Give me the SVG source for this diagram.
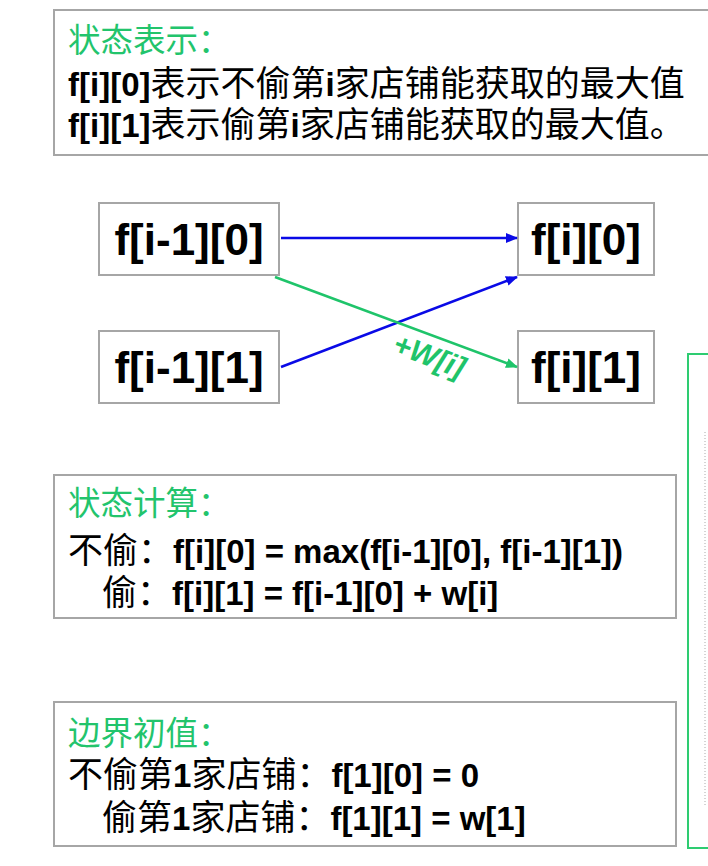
<svg xmlns="http://www.w3.org/2000/svg" width="708" height="866" viewBox="0 0 708 866">
<defs>
<style>
.box{fill:#fff;stroke:#a6a6a6;stroke-width:2}
.cj{font-family:"Noto Sans CJK SC","Noto Sans",sans-serif;font-size:35px;fill:#000}
.ti{font-family:"Noto Sans CJK SC","Noto Sans",sans-serif;font-size:32.5px;fill:#22c46c}
.lb{font-family:"Liberation Sans",Arial,sans-serif;font-weight:bold;font-size:33px}
.nd{font-family:"Liberation Sans",Arial,sans-serif;font-weight:bold;font-size:44px;fill:#000;text-anchor:middle}
.bl{stroke:#0a0ae6;stroke-width:2.5;fill:none}
.gr{stroke:#1fc46a;stroke-width:2.5;fill:none}
</style>
<marker id="ab" viewBox="0 0 12 10" refX="11" refY="5" markerWidth="12" markerHeight="10" markerUnits="userSpaceOnUse" orient="auto"><path d="M0,0 L12,5 L0,10 z" fill="#0a0ae6"/></marker>
<marker id="ag" viewBox="0 0 12 10" refX="11" refY="5" markerWidth="12" markerHeight="10" markerUnits="userSpaceOnUse" orient="auto"><path d="M0,0 L12,5 L0,10 z" fill="#1fc46a"/></marker>
</defs>
<rect width="708" height="866" fill="#fff"/>

<g id="state-repr">
<rect class="box" x="54" y="10" width="670" height="145"/>
<text class="ti" x="68" y="52">状态表示：</text>
<text class="cj" x="68" y="96" font-size="36"><tspan class="lb">f[i][0]</tspan>表示不偷第<tspan class="lb">i</tspan>家店铺能获取的最大值</text>
<text class="cj" x="68" y="137" font-size="36"><tspan class="lb">f[i][1]</tspan>表示偷第<tspan class="lb">i</tspan>家店铺能获取的最大值。</text>
</g>

<g id="n-fi1-0"><rect class="box" x="99" y="203" width="180" height="72"/><text class="nd" x="189" y="255">f[i-1][0]</text></g>
<g id="n-fi1-1"><rect class="box" x="99" y="331" width="180" height="72"/><text class="nd" x="189" y="383">f[i-1][1]</text></g>
<g id="n-fi-0"><rect class="box" x="518" y="203" width="136" height="72"/><text class="nd" x="586" y="255">f[i][0]</text></g>
<g id="n-fi-1"><rect class="box" x="518" y="331" width="136" height="72"/><text class="nd" x="586" y="383">f[i][1]</text></g>

<g id="connectors">
<line class="bl" x1="281" y1="238" x2="517" y2="238" marker-end="url(#ab)"/>
<line class="bl" x1="281" y1="367" x2="517" y2="277" marker-end="url(#ab)"/>
<line class="gr" x1="275" y1="277" x2="517" y2="367" marker-end="url(#ag)"/>
<text transform="translate(391,352) rotate(21)" font-family="Liberation Sans, Arial, sans-serif" font-style="italic" font-weight="bold" font-size="30" fill="#1fc46a">+W[i]</text>
</g>

<g id="state-calc">
<rect class="box" x="54" y="475" width="622" height="143"/>
<text class="ti" x="68" y="515">状态计算：</text>
<text class="cj" x="68" y="563">不偷：<tspan class="lb">f[i][0] = max(f[i-1][0], f[i-1][1])</tspan></text>
<text class="cj" x="102" y="605">偷：<tspan class="lb">f[i][1] = f[i-1][0] + w[i]</tspan></text>
</g>

<g id="boundary">
<rect class="box" x="54" y="702" width="622" height="144"/>
<text class="ti" x="68" y="745">边界初值：</text>
<text class="cj" x="68" y="787">不偷第<tspan class="lb">1</tspan>家店铺：<tspan class="lb">f[1][0] = 0</tspan></text>
<text class="cj" x="102" y="830">偷第<tspan class="lb">1</tspan>家店铺：<tspan class="lb">f[1][1] = w[1]</tspan></text>
</g>

<g id="side-panel">
<rect x="688" y="354" width="40" height="494" fill="#fff" stroke="#2ecc71" stroke-width="2"/>
<line x1="705" y1="432" x2="705" y2="805" stroke="#aaa" stroke-width="1" stroke-dasharray="1,2"/>
</g>
</svg>
